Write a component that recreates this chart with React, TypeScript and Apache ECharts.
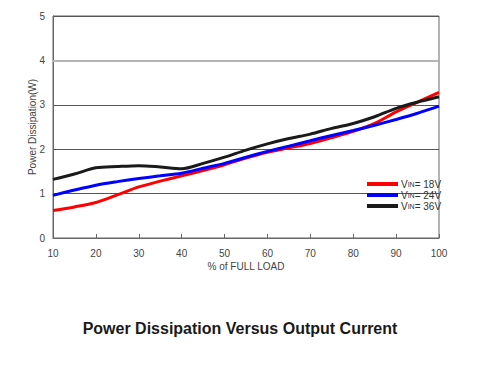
import React, { useEffect, useRef } from "react";
import * as echarts from "echarts";

const loadPct = [10, 15, 20, 25, 30, 35, 40, 45, 50, 55, 60, 65, 70, 75, 80, 85, 90, 95, 100];
const vin18 = [0.62, 0.7, 0.8, 0.97, 1.15, 1.28, 1.4, 1.52, 1.65, 1.8, 1.93, 2.03, 2.13, 2.26, 2.4, 2.58, 2.84, 3.06, 3.28];
const vin24 = [0.96, 1.08, 1.19, 1.27, 1.34, 1.4, 1.46, 1.57, 1.68, 1.82, 1.95, 2.07, 2.19, 2.31, 2.42, 2.54, 2.67, 2.81, 2.97];
const vin36 = [1.32, 1.44, 1.58, 1.61, 1.63, 1.6, 1.56, 1.68, 1.82, 1.98, 2.12, 2.24, 2.34, 2.47, 2.58, 2.73, 2.92, 3.06, 3.18];
const seriesNames = ["18V", "24V", "36V"];
const seriesColors = ["#ff0000", "#0000ff", "#1a1a1a"];

const FONT = "Liberation Sans, Arial, sans-serif";

export default function App() {
  const ref = useRef<HTMLDivElement>(null);
  useEffect(() => {
    if (!ref.current) return;
    const chart = echarts.init(ref.current, undefined, { renderer: "svg" });
    const datasets = [vin18, vin24, vin36];
    chart.setOption({
      animation: false,
      backgroundColor: "#ffffff",
      title: {
        text: "Power Dissipation Versus Output Current",
        left: "center",
        top: 315,
        textStyle: { fontFamily: FONT, fontSize: 16, fontWeight: "bold", color: "#1a1a1a" },
      },
      grid: { left: 53, right: 41, top: 16, bottom: 133, show: true, borderColor: "#666", borderWidth: 1 },
      legend: {
        orient: "vertical",
        left: 362,
        top: 174,
        itemWidth: 31,
        itemHeight: 4,
        itemGap: 1,
        icon: "rect",
        data: seriesNames,
        formatter: (n: string) => `{a|V}{b|IN}{a|= ${n}}`,
        textStyle: {
          fontFamily: FONT,
          color: "#333",
          padding: [0, 0, 0, -2],
          rich: {
            a: { fontSize: 10, fontFamily: FONT, color: "#333", lineHeight: 11 },
            b: { fontSize: 7, fontFamily: FONT, color: "#333", lineHeight: 11 },
          },
        },
      },
      xAxis: {
        type: "value",
        min: 10,
        max: 100,
        interval: 10,
        name: "% of FULL LOAD",
        nameLocation: "middle",
        nameGap: 23,
        nameMoveOverlap: false,
        nameTextStyle: { fontFamily: FONT, fontSize: 10, color: "#444" },
        axisLine: { show: true, lineStyle: { color: "#666", width: 1 } },
        axisTick: { show: true, inside: true, length: 4, lineStyle: { color: "#666" } },
        axisLabel: { fontFamily: FONT, fontSize: 10, color: "#444", margin: 10 },
        splitLine: { show: false },
      },
      yAxis: {
        type: "value",
        min: 0,
        max: 5,
        interval: 1,
        name: "Power Dissipation(W)",
        nameLocation: "middle",
        nameGap: 16,
        nameMoveOverlap: false,
        nameTextStyle: { fontFamily: FONT, fontSize: 10, color: "#444" },
        axisLine: { show: true, lineStyle: { color: "#666", width: 1 } },
        axisTick: { show: false },
        axisLabel: { fontFamily: FONT, fontSize: 10, color: "#444", margin: 8 },
        splitLine: {
          show: true,
          lineStyle: { color: ["#666", "#555", "#555", "#555", "#b5b5b5", "#555"], width: 1 },
        },
      },
      series: datasets.map((d, i) => ({
        name: seriesNames[i],
        type: "line",
        data: loadPct.map((x, j) => [x, d[j]]),
        showSymbol: false,
        smooth: 0.3,
        color: seriesColors[i],
        lineStyle: { color: seriesColors[i], width: 3 },
        z: 3 + i,
        markLine:
          i === 0
            ? {
                silent: true,
                symbol: "none",
                label: { show: false },
                lineStyle: { color: "#b5b5b5", width: 2, type: "solid" },
                data: [{ yAxis: 4 }],
                z: 1,
              }
            : undefined,
      })),
    });
    return () => chart.dispose();
  }, []);
  return <div ref={ref} style={{ width: 480, height: 371, margin: -8 }} />;
}
